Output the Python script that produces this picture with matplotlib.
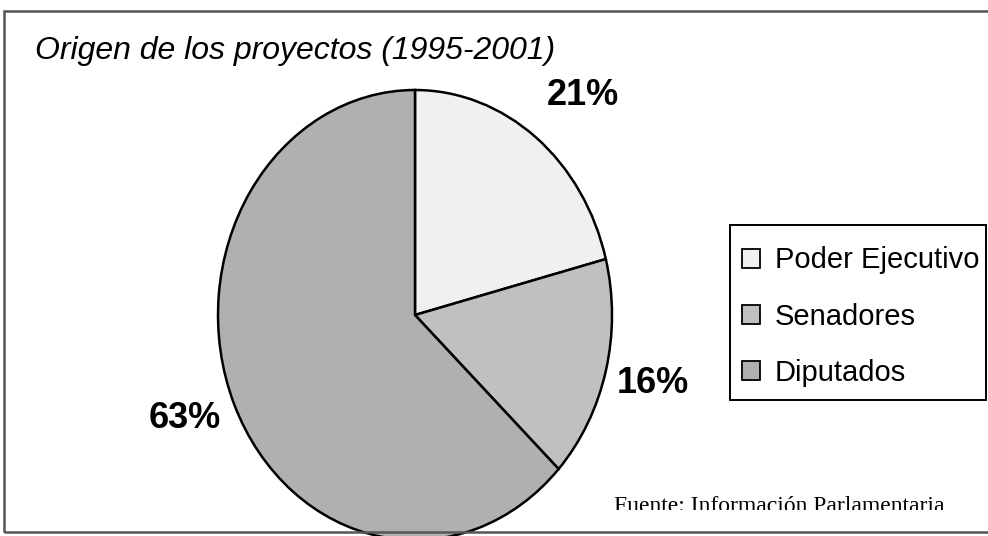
import matplotlib
matplotlib.use("Agg")
import matplotlib.pyplot as plt
import numpy as np
from matplotlib.patches import Rectangle, Patch
from matplotlib.transforms import Bbox

categories = ["Poder Ejecutivo", "Senadores", "Diputados"]
values = [21, 16, 63]
colors = ["#f0f0f0", "#c0c0c0", "#b0b0b0"]
title = "Origen de los proyectos (1995-2001)"
source = "Fuente: Información Parlamentaria"

W, H = 988, 536
fig = plt.figure(figsize=(W / 100, H / 100), dpi=100)

def fx(px):
    return px / W

def fy(py):
    return 1 - py / H

# pie axes: ellipse from x 218..612, y 90..540
ax = fig.add_axes([fx(218), fy(540), fx(612) - fx(218), fy(90) - fy(540)])
wedges, _ = ax.pie(values, colors=colors, startangle=90, counterclock=False,
                   radius=1.0, wedgeprops=dict(edgecolor="black", linewidth=1.8))
ax.set_aspect("auto")
ax.set_xlim(-1, 1)
ax.set_ylim(-1, 1)
ax.axis("off")

# percentage labels (baseline positions around the pie)
label_r = [1.264, 1.255, 1.275]
label_dang = [-4.6, -1.7, -0.1]
cum = np.cumsum([0] + values)
for i, v in enumerate(values):
    mid = 90 - 360 * (cum[i] + v / 2) / 100 + label_dang[i]
    a = np.deg2rad(mid)
    ax.text(label_r[i] * np.cos(a), label_r[i] * np.sin(a), f"{v}%",
            ha="center", va="baseline", fontsize=26, fontweight="bold",
            family="Liberation Sans", clip_on=False)

# title
fig.text(fx(35), fy(59), title, ha="left", va="baseline", fontsize=23,
         style="italic", family="Liberation Sans")

# legend (entries) + separate frame box
handles = [Patch(facecolor=c, edgecolor="black", linewidth=1.3) for c in colors]
leg = fig.legend(handles, categories, loc="upper left",
                 bbox_to_anchor=(fx(742), fy(246.5)),
                 prop={"family": "Liberation Sans", "size": 21},
                 frameon=False,
                 handlelength=0.62, handleheight=0.62, handletextpad=0.51,
                 labelspacing=0.966, borderpad=0, borderaxespad=0)
fig.patches.append(Rectangle((fx(730), fy(400)), fx(986) - fx(730), fy(225) - fy(400),
                             transform=fig.transFigure, fill=False,
                             edgecolor="black", linewidth=1.4))

# source note, clipped at bottom
t = fig.text(fx(779), fy(512), source, ha="center", va="baseline",
             fontsize=17, family="Liberation Serif")
t.set_clip_box(Bbox.from_extents(0, H - 510, W, H))
t.set_clip_on(True)

# outer frame
fig.patches.append(Rectangle((fx(4), fy(532)), 1.2, fy(11) - fy(532),
                             transform=fig.transFigure, fill=False,
                             edgecolor="#555555", linewidth=1.8))

fig.savefig("out.png", dpi=100)
